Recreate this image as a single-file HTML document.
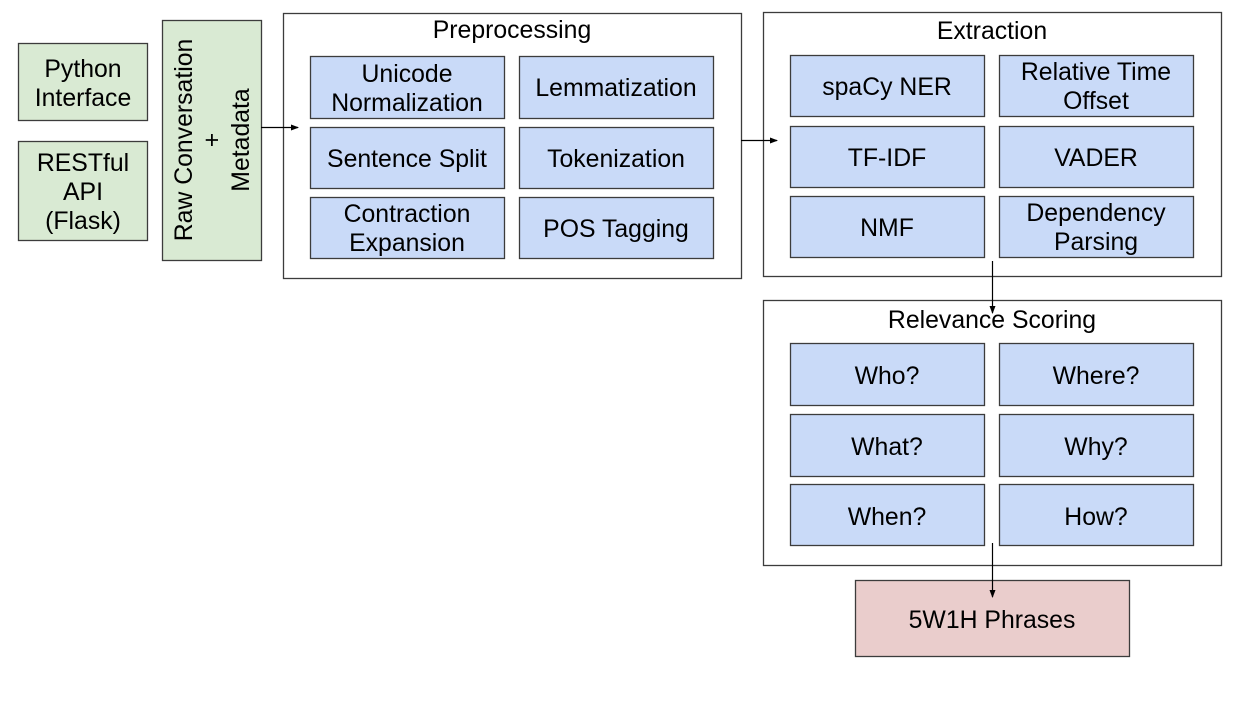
<!DOCTYPE html>
<html><head><meta charset="utf-8"><style>
html,body{margin:0;padding:0;background:#fff;}
svg text{font-family:"Liberation Sans",Arial,sans-serif;font-size:24.8px;fill:#000;text-anchor:middle;}
</style></head><body>
<svg width="1246" height="716" viewBox="0 0 1246 716" xmlns="http://www.w3.org/2000/svg">
<defs><marker id="a" markerWidth="8" markerHeight="8" refX="7" refY="4" orient="auto" markerUnits="userSpaceOnUse"><path d="M0,1 L8,4 L0,7 z" fill="#000"/></marker></defs>
<g stroke="#3c3c3c" stroke-width="1.3">
<rect x="18.5" y="43.5" width="129" height="77" fill="#d9ead3"/>
<rect x="18.5" y="141.5" width="129" height="99" fill="#d9ead3"/>
<rect x="162.5" y="20.5" width="99" height="240" fill="#d9ead3"/>
<rect x="283.5" y="13.5" width="458" height="265" fill="#fff"/>
<rect x="763.5" y="12.5" width="458" height="264" fill="#fff"/>
<rect x="763.5" y="300.5" width="458" height="265" fill="#fff"/>
<rect x="855.5" y="580.5" width="274" height="76" fill="#eacdcc"/>
<g fill="#c9daf8">
<rect x="310.5" y="56.5" width="194" height="62"/><rect x="519.5" y="56.5" width="194" height="62"/>
<rect x="310.5" y="127.5" width="194" height="61"/><rect x="519.5" y="127.5" width="194" height="61"/>
<rect x="310.5" y="197.5" width="194" height="61"/><rect x="519.5" y="197.5" width="194" height="61"/>
<rect x="790.5" y="55.5" width="194" height="61"/><rect x="999.5" y="55.5" width="194" height="61"/>
<rect x="790.5" y="126.5" width="194" height="61"/><rect x="999.5" y="126.5" width="194" height="61"/>
<rect x="790.5" y="196.5" width="194" height="61"/><rect x="999.5" y="196.5" width="194" height="61"/>
<rect x="790.5" y="343.5" width="194" height="62"/><rect x="999.5" y="343.5" width="194" height="62"/>
<rect x="790.5" y="414.5" width="194" height="62"/><rect x="999.5" y="414.5" width="194" height="62"/>
<rect x="790.5" y="484.5" width="194" height="61"/><rect x="999.5" y="484.5" width="194" height="61"/>
</g>
</g>
<g stroke="#000" stroke-width="1.2" fill="none">
<line x1="261" y1="127.5" x2="298" y2="127.5" marker-end="url(#a)"/>
<line x1="741" y1="140.5" x2="777" y2="140.5" marker-end="url(#a)"/>
<line x1="992.5" y1="261" x2="992.5" y2="313" marker-end="url(#a)"/>
<line x1="992.5" y1="543" x2="992.5" y2="597" marker-end="url(#a)"/>
</g>
<text x="83" y="77">Python</text><text x="83" y="106">Interface</text>
<text x="83" y="171">RESTful</text><text x="83" y="200">API</text><text x="83" y="229">(Flask)</text>
<g transform="translate(212,140) rotate(-90)"><text x="0" y="-20">Raw Conversation</text><text x="0" y="8">+</text><text x="0" y="37">Metadata</text></g>
<text x="512" y="38">Preprocessing</text>
<text x="407" y="82">Unicode</text><text x="407" y="111">Normalization</text>
<text x="616" y="96">Lemmatization</text>
<text x="407" y="167">Sentence Split</text>
<text x="616" y="167">Tokenization</text>
<text x="407" y="222">Contraction</text><text x="407" y="251">Expansion</text>
<text x="616" y="237">POS Tagging</text>
<text x="992" y="39">Extraction</text>
<text x="887" y="95">spaCy NER</text>
<text x="1096" y="80">Relative Time</text><text x="1096" y="109">Offset</text>
<text x="887" y="166">TF-IDF</text>
<text x="1096" y="166">VADER</text>
<text x="887" y="236">NMF</text>
<text x="1096" y="221">Dependency</text><text x="1096" y="250">Parsing</text>
<text x="992" y="328">Relevance Scoring</text>
<text x="887" y="384">Who?</text><text x="1096" y="384">Where?</text>
<text x="887" y="455">What?</text><text x="1096" y="455">Why?</text>
<text x="887" y="525">When?</text><text x="1096" y="525">How?</text>
<text x="992" y="628">5W1H Phrases</text>
</svg>
</body></html>
